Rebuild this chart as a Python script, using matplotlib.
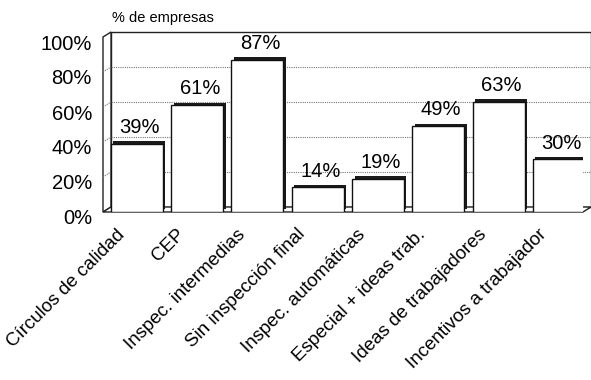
import numpy as np
import matplotlib
matplotlib.use("Agg")
import matplotlib.pyplot as plt
from matplotlib.transforms import ScaledTranslation
from matplotlib.patches import Polygon, Rectangle

plt.rcParams['font.family'] = ['Liberation Sans', 'DejaVu Sans']

# Data
categories = ["Círculos de calidad", "CEP", "Inspec. intermedias",
              "Sin inspección final", "Inspec. automáticas",
              "Especial + ideas trab.", "Ideas de trabajadores",
              "Incentivos a trabajador"]
values = [39, 61, 87, 14, 19, 49, 63, 30]
yticks = [0, 20, 40, 60, 80, 100]
ytick_labels = ["0%", "20%", "40%", "60%", "80%", "100%"]

fig = plt.figure(figsize=(5.91, 3.8), dpi=100)
ax = fig.add_axes([103 / 591, 1 - 212 / 380, 480 / 591, 175 / 380])
x0, x1 = -0.56, 7.40
ax.set_xlim(x0, x1)
ax.set_ylim(0, 100)
for s in ax.spines.values():
    s.set_visible(False)

# depth offset of the back wall (8 px right, 5 px up)
back = ax.transData + ScaledTranslation(8 / 100, 5 / 100, fig.dpi_scale_trans)

# back wall + gridlines
ax.add_patch(Rectangle((x0, 0), x1 - x0, 100, transform=back, fill=False,
                       ec="#222222", lw=1.0, zorder=0, clip_on=False))
for g in [20, 40, 60, 80]:
    ax.plot([x0, x1], [g, g], transform=back, color="#777777", ls=(0, (1, 1)),
            lw=0.8, zorder=0, clip_on=False)

inv = ax.transData.inverted()
def back_pt(x, y):
    return inv.transform(back.transform((x, y)))

# left wall and floor
bl = back_pt(x0, 0)
tl = back_pt(x0, 100)
br = back_pt(x1, 0)
ax.add_patch(Polygon([(x0, 0), (x0, 100), tl, bl], closed=True, fc="white",
                     ec="#222222", lw=1.0, zorder=0.5, clip_on=False))
for g in [20, 40, 60, 80]:
    bp = back_pt(x0, g)
    ax.plot([x0, bp[0]], [g, bp[1]], color="#777777", ls=(0, (1, 1)),
            lw=0.8, zorder=0.6, clip_on=False)
ax.add_patch(Polygon([(x0, 0), (x1, 0), br, bl], closed=True, fc="white",
                     ec="#222222", lw=1.0, zorder=0.5, clip_on=False))

# bars with a dark depth edge
xs = np.arange(len(values))
shadow = ax.transData + ScaledTranslation(2.5 / 100, 2.5 / 100, fig.dpi_scale_trans)
ax.bar(xs, values, width=0.86, color="#1a1a1a", transform=shadow, zorder=2)
ax.bar(xs, values, width=0.86, color="white", edgecolor="#111111", lw=1.0, zorder=3)

for xi, v in zip(xs, values):
    ax.annotate(f"{v}%", (xi, v), xytext=(2, 5), textcoords="offset points",
                ha="center", va="bottom", fontsize=14.5, zorder=4)

ax.set_yticks(yticks)
ax.set_yticklabels(ytick_labels, fontsize=14.5)
ax.tick_params(axis="y", length=0, pad=8)
for lab in ax.get_yticklabels():
    lab.set_transform(lab.get_transform() + ScaledTranslation(0, -5 / 100, fig.dpi_scale_trans))

ax.set_xticks(xs)
ax.set_xticklabels(categories, rotation=45, ha="right", rotation_mode="anchor",
                   fontsize=13.5)
ax.tick_params(axis="x", length=0, pad=10)
for lab in ax.get_xticklabels():
    lab.set_transform(lab.get_transform() + ScaledTranslation(-21 / 100, 0, fig.dpi_scale_trans))

fig.text(112 / 591, 1 - 18 / 380, "% de empresas", fontsize=10.5, va="center", ha="left")

fig.savefig("out.png", dpi=100)
